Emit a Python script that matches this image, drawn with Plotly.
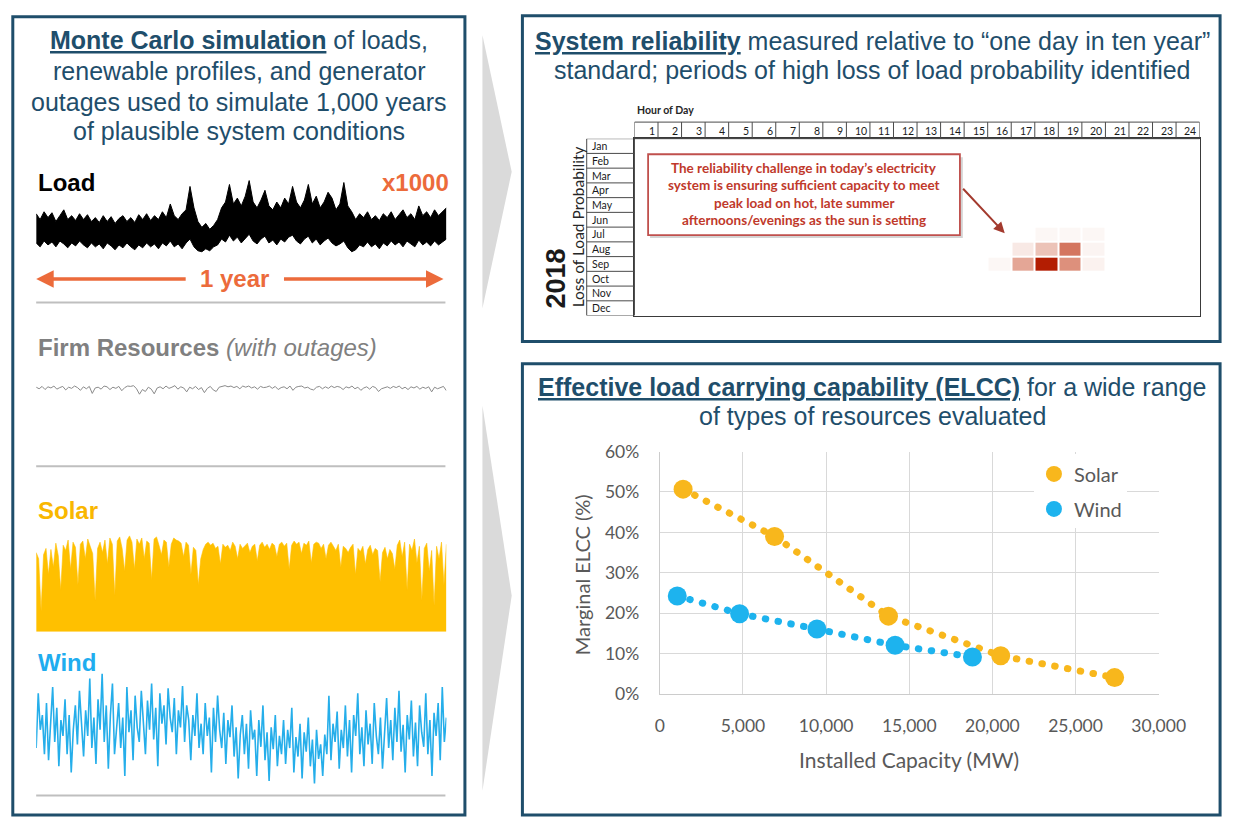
import plotly.graph_objects as go

W, H = 1250, 827


def px(x):
    return x / W


def py(y):
    return 1 - y / H


TEAL = "#1f4e6b"
ORANGE = "#ec6b3b"
GOLD = "#ffc000"
SKY = "#25aeea"
SOLAR_PT = "#f8b71c"
WIND_PT = "#1db3ee"
TITLE_FONT = "Liberation Sans, Arial, sans-serif"
CHART_FONT = "Lato, Carlito, Calibri, sans-serif"

# ---------------- data ----------------
# one simulated year of daily load extremes (GW)
load_daily_max = [
    41, 38, 42, 39, 41.5, 37, 40, 43, 38, 40,
    37.5, 41, 38, 40.5, 37, 39, 36.5, 40, 37, 39.5,
    36, 38.5, 40, 37, 39, 36.5, 40.5, 38, 41, 37.5,
    40, 38, 42, 39, 46, 40, 38, 41, 43, 55,
    44, 37, 34, 36, 33, 35, 38, 44, 47, 56,
    46, 49, 45, 50, 58, 47, 44, 48, 53, 45,
    43, 47, 44, 49, 46, 55, 47, 44, 48, 56,
    46, 50, 44, 47, 52, 49, 43, 46, 57, 45,
    42, 38, 41, 39, 42, 38, 40, 37.5, 41, 39,
    42, 38, 40.5, 43, 39, 41, 38, 45, 40, 42,
    39, 43, 40, 42, 44,
]
load_daily_min = [
    26, 24, 27, 25, 26.5, 24, 27, 25.5, 23.5, 26,
    24.5, 27, 25, 23.5, 26, 24, 25.5, 23, 26, 24.5,
    22.5, 25, 23.5, 26, 24, 22.5, 25, 23.5, 26, 24,
    25.5, 23, 26, 24.5, 27, 24, 25.5, 23, 26, 28,
    24, 22, 21.5, 23, 22, 24, 25, 28, 26.5, 30,
    27, 29, 26, 28.5, 30.5, 27, 25.5, 28, 29.5, 26,
    27.5, 25, 28, 26.5, 29, 30, 27, 25.5, 28, 29.5,
    26, 28, 25, 27, 28.5, 26, 24.5, 25.5, 27, 23.5,
    21.5, 22.5, 25, 24, 26.5, 24, 25.5, 23, 26, 24.5,
    27, 25, 26.5, 24, 27, 25.5, 24, 27.5, 25, 26.5,
    24.5, 27, 25, 26.5, 28,
]

# available firm capacity (GW), dips are forced outages
firm_available = [
    29.0, 28.6, 29.2, 28.4, 29.1, 28.8, 29.3, 28.5, 28.9, 29.2,
    28.3, 29.0, 28.7, 29.3, 28.9, 28.2, 29.1, 28.6, 29.2, 27.4,
    28.8, 29.0, 28.5, 29.3, 29.1, 28.4, 29.0, 28.7, 29.2, 28.1,
    28.9, 29.3, 29.2, 29.4, 28.6, 27.2, 28.4, 27.9, 29.0, 28.5,
    27.3, 28.8, 29.1, 28.6, 29.3, 28.7, 29.0, 29.4, 28.5, 29.1,
    28.8, 27.8, 29.0, 28.6, 29.2, 28.4, 28.9, 27.6, 28.7, 29.2,
    28.3, 27.9, 29.0, 29.3, 29.4, 29.1, 29.3, 28.9, 29.2, 28.6,
    29.3, 29.0, 29.3, 28.8, 29.1, 28.5, 29.2, 28.9, 29.0, 29.3,
    28.7, 29.2, 28.4, 28.9, 29.1, 28.6, 29.3, 28.2, 29.0, 29.2,
    29.3, 28.8, 29.0, 28.5, 28.3, 29.0, 29.2, 28.6, 29.1, 28.7,
    29.3, 28.9, 29.2, 29.0, 28.4, 29.1, 28.8, 29.3, 28.6, 29.0,
    28.2, 28.8, 29.1, 28.5, 29.2, 28.9, 27.9, 28.6, 28.8, 29.1,
    28.7, 29.2, 28.9, 29.3, 28.6, 29.0, 28.4, 29.1, 28.8, 29.2,
    28.5, 29.0, 28.7, 29.1, 27.8, 29.0, 28.6, 28.9, 29.2, 28.1,
]

# solar output, fraction of nameplate
solar_profile = [
    0.76, 0.70, 0.20, 0.74, 0.80, 0.55, 0.79, 0.62, 0.85, 0.73,
    0.40, 0.83, 0.78, 0.88, 0.60, 0.86, 0.81, 0.45, 0.84, 0.87,
    0.70, 0.89, 0.82, 0.75, 0.30, 0.80, 0.86, 0.76,
    0.88, 0.65, 0.90, 0.84, 0.35, 0.87, 0.91, 0.80, 0.58, 0.88,
    0.92, 0.86, 0.60, 0.89, 0.84, 0.90, 0.70, 0.87, 0.85, 0.50,
    0.89, 0.91, 0.83, 0.74, 0.88, 0.86, 0.62, 0.84, 0.90, 0.88,
    0.87, 0.85, 0.72, 0.86, 0.83, 0.55, 0.81, 0.78, 0.45, 0.70,
    0.79, 0.84, 0.86, 0.83, 0.85, 0.80, 0.82, 0.65, 0.84, 0.81,
    0.83, 0.78, 0.86, 0.82, 0.70, 0.84, 0.80, 0.83, 0.85, 0.76,
    0.82, 0.84, 0.68, 0.83, 0.86, 0.81, 0.84, 0.79, 0.85, 0.83,
    0.72, 0.84, 0.86, 0.82, 0.85, 0.60, 0.83, 0.87, 0.84, 0.86,
    0.75, 0.85, 0.83, 0.87, 0.66, 0.84, 0.86, 0.85, 0.80, 0.84,
    0.70, 0.83, 0.86, 0.82, 0.78, 0.84, 0.62, 0.82, 0.80, 0.76,
    0.81, 0.84, 0.55, 0.80, 0.77, 0.82, 0.65, 0.79, 0.83, 0.74,
    0.80, 0.78, 0.48, 0.76, 0.81, 0.70, 0.79, 0.75, 0.60, 0.83,
    0.88, 0.72, 0.86, 0.40, 0.84, 0.78, 0.89, 0.66, 0.82, 0.30,
    0.80, 0.85, 0.58, 0.78, 0.25, 0.82, 0.70, 0.86, 0.45, 0.84,
]

# wind output, fraction of nameplate
wind_profile = [
    0.35, 0.80, 0.50, 0.62, 0.30, 0.72, 0.25, 0.55, 0.85, 0.40,
    0.68, 0.20, 0.58, 0.45, 0.75, 0.30, 0.62, 0.15, 0.50, 0.70,
    0.38, 0.82, 0.55, 0.28, 0.66, 0.45, 0.92, 0.35, 0.60, 0.22,
    0.75, 0.50, 0.96, 0.40, 0.70, 0.18, 0.62, 0.88, 0.30, 0.55,
    0.72, 0.35, 0.60, 0.12, 0.85, 0.48, 0.66, 0.25, 0.78, 0.52,
    0.40, 0.82, 0.60, 0.30, 0.74, 0.50, 0.88, 0.42, 0.68, 0.20,
    0.80, 0.55, 0.70, 0.38, 0.84, 0.60, 0.48, 0.76, 0.30, 0.66,
    0.52, 0.86, 0.40, 0.70, 0.58, 0.25, 0.62, 0.45, 0.80, 0.35,
    0.55, 0.30, 0.72, 0.45, 0.60, 0.15, 0.68, 0.40, 0.78, 0.50,
    0.35, 0.64, 0.22, 0.58, 0.44, 0.70, 0.28, 0.52, 0.10, 0.46,
    0.62, 0.30, 0.55, 0.18, 0.66, 0.42, 0.50, 0.12, 0.58, 0.36,
    0.70, 0.25, 0.48, 0.08, 0.52, 0.34, 0.62, 0.20, 0.45, 0.30,
    0.58, 0.22, 0.50, 0.35, 0.68, 0.15, 0.44, 0.28, 0.55, 0.10,
    0.48, 0.32, 0.60, 0.20, 0.42, 0.06, 0.50, 0.26, 0.38, 0.12,
    0.46, 0.30, 0.78, 0.25, 0.55, 0.40, 0.65, 0.18, 0.50, 0.35,
    0.70, 0.28, 0.58, 0.15, 0.62, 0.45, 0.80, 0.30, 0.52, 0.20,
    0.66, 0.38, 0.55, 0.22, 0.72, 0.45, 0.30, 0.60, 0.18, 0.50,
    0.76, 0.35, 0.58, 0.25, 0.68, 0.40, 0.82, 0.32, 0.54, 0.15,
    0.62, 0.42, 0.74, 0.28, 0.56, 0.20, 0.70, 0.48, 0.36, 0.80,
    0.30, 0.58, 0.12, 0.64, 0.45, 0.72, 0.25, 0.85, 0.40, 0.60,
]

# 2018 loss-of-load probability by month and hour (relative to the peak cell)
months = ["Jan", "Feb", "Mar", "Apr", "May", "Jun",
          "Jul", "Aug", "Sep", "Oct", "Nov", "Dec"]
hours = list(range(1, 25))
lolp_hours = [16, 17, 18, 19, 20]
lolp_jul = [0.0, 0.0, 0.03, 0.03, 0.03]
lolp_aug = [0.0, 0.08, 0.25, 0.60, 0.04]
lolp_sep = [0.03, 0.38, 1.00, 0.48, 0.05]

# marginal ELCC curves
solar_mw = [1400, 6900, 13750, 20500, 27350]
solar_elcc = [0.507, 0.390, 0.193, 0.095, 0.041]
wind_mw = [1050, 4800, 9450, 14150, 18800]
wind_elcc = [0.243, 0.199, 0.161, 0.121, 0.092]
capacity_ticks = [0, 5000, 10000, 15000, 20000, 25000, 30000]
elcc_ticks = [0, 0.1, 0.2, 0.3, 0.4, 0.5, 0.6]


def frac_index(values):
    n = len(values)
    return [i / (n - 1) for i in range(n)]


lolp_rows = {"Jul": lolp_jul, "Aug": lolp_aug, "Sep": lolp_sep}
lolp_grid = []
for m in months:
    row = [0.0] * len(hours)
    for h, v in zip(lolp_hours, lolp_rows.get(m, [])):
        row[hours.index(h)] = v
    lolp_grid.append(row)

fig = go.Figure()
quiet = dict(showlegend=False, hoverinfo="skip")

# ---- left panel: simulated year profiles ----
fig.add_trace(go.Scatter(x=frac_index(load_daily_max), y=load_daily_max,
                         xaxis="x3", yaxis="y3", mode="lines",
                         line=dict(color="#000000", width=1), **quiet))
fig.add_trace(go.Scatter(x=frac_index(load_daily_min), y=load_daily_min,
                         xaxis="x3", yaxis="y3", mode="lines", fill="tonexty",
                         fillcolor="#000000",
                         line=dict(color="#000000", width=1), **quiet))
fig.add_trace(go.Scatter(x=frac_index(firm_available), y=firm_available,
                         xaxis="x4", yaxis="y4", mode="lines",
                         line=dict(color="#8a8a8a", width=1), **quiet))
fig.add_trace(go.Scatter(x=frac_index(solar_profile), y=solar_profile,
                         xaxis="x5", yaxis="y5", mode="lines", fill="tozeroy",
                         fillcolor=GOLD, line=dict(color=GOLD, width=0.6),
                         **quiet))
fig.add_trace(go.Scatter(x=frac_index(wind_profile), y=wind_profile,
                         xaxis="x6", yaxis="y6", mode="lines",
                         line=dict(color=SKY, width=1.6), **quiet))

# ---- top right: LOLP heat map ----
fig.add_trace(go.Heatmap(z=lolp_grid, x=hours, y=months, xaxis="x2", yaxis="y2",
                         zmin=0, zmax=1, showscale=False, xgap=2, ygap=2,
                         colorscale=[[0, "#ffffff"], [0.1, "#f6e4df"],
                                     [0.5, "#dc8c77"], [1, "#b31d02"]],
                         hoverinfo="skip"))

# ---- bottom right: marginal ELCC ----
dots = dict(width=7, dash="0.5px,12.5px")
fig.add_trace(go.Scatter(x=solar_mw, y=solar_elcc, mode="lines",
                         line=dict(color=SOLAR_PT, **dots), **quiet))
fig.add_trace(go.Scatter(x=solar_mw, y=solar_elcc, mode="markers", name="Solar",
                         legendgroup="solar", marker=dict(color=SOLAR_PT, size=19),
                         hoverinfo="skip"))
fig.add_trace(go.Scatter(x=wind_mw, y=wind_elcc, mode="lines",
                         line=dict(color=WIND_PT, **dots), **quiet))
fig.add_trace(go.Scatter(x=wind_mw, y=wind_elcc, mode="markers", name="Wind",
                         legendgroup="wind", marker=dict(color=WIND_PT, size=19),
                         hoverinfo="skip"))

# ---------------- layout ----------------
hidden = dict(visible=False, fixedrange=True)
left_x = [px(32), px(453)]
tick_font = dict(family=CHART_FONT, size=17.5, color="#595959")

shapes = []


def box(x0, y0, x1, y1, **kw):
    shapes.append(dict(type="rect", xref="paper", yref="paper",
                       x0=px(x0), x1=px(x1), y0=py(y1), y1=py(y0), **kw))


def hline(x0, x1, y, color="#bfbfbf", width=2):
    shapes.append(dict(type="line", xref="paper", yref="paper",
                       x0=px(x0), x1=px(x1), y0=py(y), y1=py(y),
                       line=dict(color=color, width=width)))


def chevron(x0, y0, xtip, ytip, y1):
    path = "M {} {} L {} {} L {} {} Z".format(px(x0), py(y0), px(xtip), py(ytip),
                                               px(x0), py(y1))
    shapes.append(dict(type="path", xref="paper", yref="paper", path=path,
                       fillcolor="#dadada", line=dict(width=0), layer="below"))


# panel frames and flow chevrons
frame = dict(line=dict(color=TEAL, width=3))
box(8, 6, 472, 825, **frame)
box(531, 5, 1247, 339, **frame)
box(531, 362, 1247, 825, **frame)
chevron(490, 25, 520, 165, 305)
chevron(490, 405, 520, 600, 800)

# separators between the left-panel profiles
hline(32, 452, 299)
hline(32, 452, 467)
hline(32, 452, 805)

# hour-of-day header and month column of the LOLP table
grid_line = dict(color="#4a4a4a", width=1)
shapes.append(dict(type="rect", xref="x2", yref="paper", x0=0.5, x1=24.5,
                   y0=py(131), y1=py(114), line=grid_line))
for h in hours[:-1]:
    shapes.append(dict(type="line", xref="x2", yref="paper", x0=h + 0.5, x1=h + 0.5,
                       y0=py(131), y1=py(114), line=grid_line))
shapes.append(dict(type="rect", xref="paper", yref="y2", x0=px(597), x1=px(646),
                   y0=-0.5, y1=len(months) - 0.5, line=grid_line))
for i in range(len(months) - 1):
    shapes.append(dict(type="line", xref="paper", yref="y2", x0=px(597), x1=px(646),
                       y0=i + 0.5, y1=i + 0.5, line=grid_line))

# callout box
box(662, 150, 983, 233, fillcolor="#d4d4d4", line=dict(width=0))
box(660, 147, 980, 230, fillcolor="#ffffff", line=dict(color="#c0504d", width=1.8))

ann = []


def text(x, y, s, size, color, family=TITLE_FONT, xanchor="center", **kw):
    ann.append(dict(xref="paper", yref="paper", x=px(x), y=py(y), text=s,
                    showarrow=False, xanchor=xanchor, yanchor="middle",
                    font=dict(family=family, size=size, color=color), **kw))


# panel headings
for s, y in [("<b><u>Monte Carlo simulation</u></b> of loads,", 30),
             ("renewable profiles, and generator", 62),
             ("outages used to simulate 1,000 years", 93),
             ("of plausible system conditions", 123)]:
    text(240, y, s, 25, TEAL)
for s, y in [("<b><u>System reliability</u></b> measured relative to \u201cone day in ten year\u201d", 31),
             ("standard; periods of high loss of load probability identified", 61)]:
    text(890, y, s, 25, TEAL)
for s, y in [("<b><u>Effective load carrying capability (ELCC)</u></b> for a wide range", 386),
             ("of types of resources evaluated", 416)]:
    text(890, y, s, 25, TEAL)

# left panel labels
text(32, 176, "<b>Load</b>", 24, "#000000", xanchor="left")
text(458, 176, "<b>x1000</b>", 24, ORANGE, xanchor="right")
text(236, 274, "<b>1 year</b>", 24, ORANGE)
for head_x, tail_dx in [(32, 151), (450, -161)]:
    ann.append(dict(xref="paper", yref="paper", x=px(head_x), y=py(275),
                    ax=tail_dx, ay=0, text="", showarrow=True, arrowhead=2,
                    arrowsize=1, arrowwidth=3.5, arrowcolor=ORANGE))
text(32, 345, "<b>Firm Resources</b> <i>(with outages)</i>", 24, "#808080",
     xanchor="left")
text(32, 513, "<b>Solar</b>", 24, "#f9b700", xanchor="left")
text(32, 668, "<b>Wind</b>", 24, "#1fadef", xanchor="left")

# LOLP table labels
text(647, 102, "<b>Hour of Day</b>", 10.5, "#262626", family=CHART_FONT,
     xanchor="left")
for h in hours:
    ann.append(dict(xref="x2", yref="paper", x=h + 0.45, y=py(123), text=str(h),
                    showarrow=False, xanchor="right", yanchor="middle",
                    font=dict(family=CHART_FONT, size=10.5, color="#1a1a1a")))
for m in months:
    ann.append(dict(xref="paper", yref="y2", x=px(600), y=m, text=m,
                    showarrow=False, xanchor="left", yanchor="middle",
                    font=dict(family=CHART_FONT, size=10.5, color="#1a1a1a")))
text(566, 275, "<b>2018</b>", 27, "#1a1a1a", textangle=-90)
text(588, 221, "Loss of Load Probability", 15.5, "#262626", family=CHART_FONT,
     textangle=-90)

callout = ["The reliability challenge in today\u2019s electricity",
           "system is ensuring sufficient capacity to meet",
           "peak load on hot, late summer",
           "afternoons/evenings as the sun is setting"]
for s, y in zip(callout, [161, 179, 197, 214]):
    text(820, y, "<b>" + s + "</b>", 13.5, "#c0392b", family=CHART_FONT)
ann.append(dict(xref="paper", yref="paper", x=px(1026), y=py(228), ax=-43, ay=-46,
                text="", showarrow=True, arrowhead=2, arrowsize=1.1,
                arrowwidth=2, arrowcolor="#a33a2e"))

# ELCC axis titles
text(928, 768, "Installed Capacity (MW)", 21, "#595959", family=CHART_FONT)
text(592, 578, "Marginal ELCC (%)", 20, "#595959", family=CHART_FONT,
     textangle=-90)

fig.update_layout(
    width=W, height=H, margin=dict(l=0, r=0, t=0, b=0),
    paper_bgcolor="#ffffff", plot_bgcolor="rgba(0,0,0,0)",
    xaxis=dict(domain=[px(672), px(1184)], range=[0, 30000], tickvals=capacity_ticks,
               tickformat=",", tickfont=tick_font, showgrid=True,
               gridcolor="#d9d9d9", gridwidth=1, showline=True,
               linecolor="#cccccc", zeroline=False, ticks="",
               ticklabelstandoff=16, fixedrange=True, anchor="y"),
    yaxis=dict(domain=[py(701), py(452)], range=[0, 0.6], tickvals=elcc_ticks,
               tickformat=".0%", tickfont=tick_font, showgrid=True,
               gridcolor="#d9d9d9", gridwidth=1, showline=True,
               linecolor="#cccccc", zeroline=False, ticks="",
               ticklabelstandoff=16, fixedrange=True, anchor="x"),
    xaxis2=dict(domain=[px(646), px(1226)], range=[0.5, 24.5], anchor="y2",
                showticklabels=False, showgrid=False, zeroline=False, ticks="",
                showline=True, mirror=True, linecolor="#3a3a3a", linewidth=1.5,
                fixedrange=True),
    yaxis2=dict(domain=[py(312.5), py(131)], type="category", categoryarray=months,
                range=[len(months) - 0.5, -0.5], anchor="x2",
                showticklabels=False, showgrid=False, zeroline=False, ticks="",
                showline=True, mirror=True, linecolor="#3a3a3a", linewidth=1.5,
                fixedrange=True),
    xaxis3=dict(domain=left_x, range=[0, 1], anchor="y3", **hidden),
    yaxis3=dict(domain=[py(250), py(170)], range=[20, 60], anchor="x3", **hidden),
    xaxis4=dict(domain=left_x, range=[0, 1], anchor="y4", **hidden),
    yaxis4=dict(domain=[py(398), py(378)], range=[26, 31], anchor="x4", **hidden),
    xaxis5=dict(domain=left_x, range=[0, 1], anchor="y5", **hidden),
    yaxis5=dict(domain=[py(637), py(530)], range=[0, 1], anchor="x5", **hidden),
    xaxis6=dict(domain=left_x, range=[0, 1], anchor="y6", **hidden),
    yaxis6=dict(domain=[py(800), py(675)], range=[0, 1], anchor="x6", **hidden),
    legend=dict(x=px(1056), y=py(455), xanchor="left", yanchor="top",
                bgcolor="#ffffff", traceorder="grouped", tracegroupgap=6,
                itemsizing="trace",
                font=dict(family=CHART_FONT, size=20, color="#595959")),
    shapes=shapes, annotations=ann,
)

# page chrome: no body margin or scrollbars, round ends for the dotted lines
PAGE_JS = """
document.documentElement.style.margin = '0';
document.documentElement.style.overflow = 'hidden';
document.body.style.margin = '0';
document.body.style.overflow = 'hidden';
var gd = document.getElementById('{plot_id}');
function roundDots() {
  gd.querySelectorAll('path.js-line').forEach(function (p) {
    if (p.style.strokeDasharray && p.style.strokeDasharray !== 'none') {
      p.style.strokeLinecap = 'round';
    }
  });
}
roundDots();
gd.on('plotly_afterplot', roundDots);
"""

fig.write_html("out.html", post_script=PAGE_JS,
               config={"displayModeBar": False, "staticPlot": True})
